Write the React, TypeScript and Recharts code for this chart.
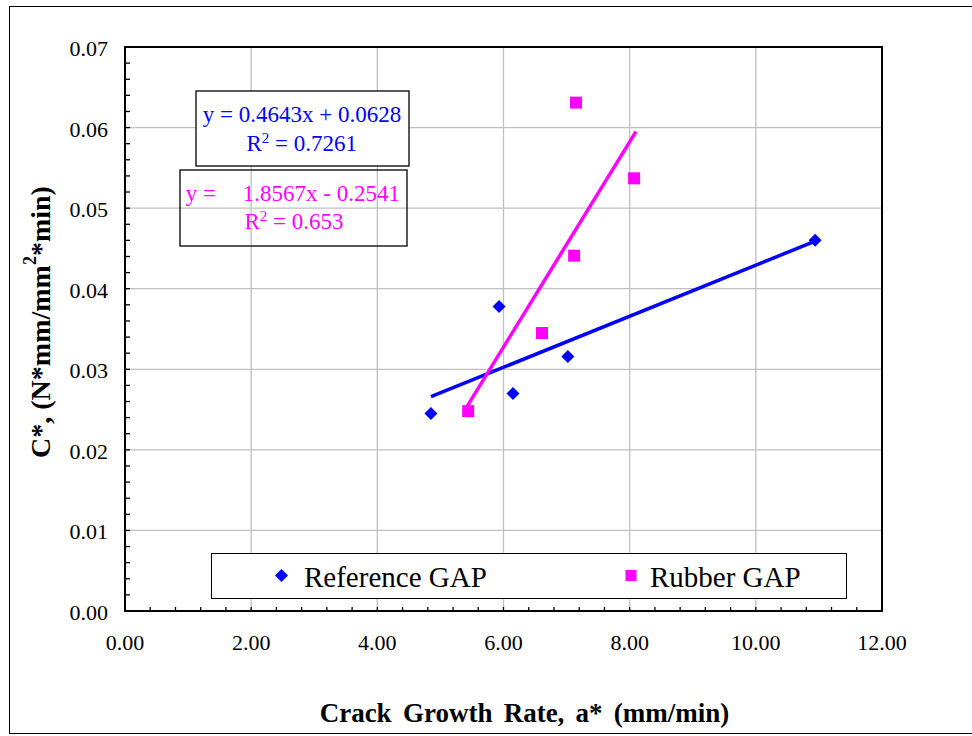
import React from "react";
import {
  ScatterChart,
  Scatter,
  XAxis,
  YAxis,
  CartesianGrid,
  ReferenceArea,
  Legend,
} from "recharts";

// ---- data ----
const refX = [4.85, 5.93, 6.15, 7.02, 10.94];
const refY = [0.0245, 0.0378, 0.027, 0.0316, 0.046];
const rubX = [5.44, 6.61, 7.12, 7.15, 8.07];
const rubY = [0.0248, 0.0345, 0.0441, 0.0631, 0.0537];

// trend line end points (as drawn)
const refTrendX = [4.85, 10.94];
const refTrendY = [0.0266, 0.0459];
const rubTrendX = [5.43, 8.1];
const rubTrendY = [0.0255, 0.0595];

// axes
const X_DOMAIN = [0, 12];
const Y_DOMAIN = [0, 0.07];
const X_MAJOR = [0, 2, 4, 6, 8, 10, 12];
const Y_MAJOR = [0, 0.01, 0.02, 0.03, 0.04, 0.05, 0.06, 0.07];
const X_TICKS = Array.from({ length: 31 }, (_, i) => +(i * 0.4).toFixed(1));
const Y_TICKS = Array.from({ length: 36 }, (_, i) => +(i * 0.002).toFixed(3));

const SERIES_NAMES = ["Reference GAP", "Rubber GAP"];
const X_TITLE = "Crack Growth Rate, a* (mm/min)";

const BLUE = "#0000FF";
const MAGENTA = "#FF00FF";
const FONT = '"Liberation Serif", "Times New Roman", Times, serif';

const toPts = (xs: number[], ys: number[]) => xs.map((x, i) => ({ x, y: ys[i] }));
const refData = toPts(refX, refY);
const rubData = toPts(rubX, rubY);
const refTrend = toPts(refTrendX, refTrendY);
const rubTrend = toPts(rubTrendX, rubTrendY);

const Diamond = (p: any) => {
  const { cx, cy } = p;
  if (cx == null || cy == null) return <g />;
  const r = 6.5;
  return (
    <polygon
      points={`${cx},${cy - r} ${cx + r},${cy} ${cx},${cy + r} ${cx - r},${cy}`}
      fill={BLUE}
    />
  );
};

const Square = (p: any) => {
  const { cx, cy } = p;
  if (cx == null || cy == null) return <g />;
  const s = 12;
  return <rect x={cx - s / 2} y={cy - s / 2} width={s} height={s} fill={MAGENTA} />;
};

const NoShape = () => <g />;

const isMajor = (v: number, majors: number[]) =>
  majors.some((m) => Math.abs(m - v) < 1e-9);

const XTick = (p: any) => {
  const { x, y, payload } = p;
  const v = payload.value as number;
  const major = isMajor(v, X_MAJOR);
  return (
    <g>
      <line x1={x} x2={x} y1={y} y2={y - 4} stroke="#000" strokeWidth={1.3} />
      {major && (
        <text x={x} y={y + 38.5} textAnchor="middle" fontSize={22} fill="#000" fontFamily={FONT}>
          {v.toFixed(2)}
        </text>
      )}
    </g>
  );
};

const YTick = (p: any) => {
  const { x, y, payload } = p;
  const v = payload.value as number;
  const major = isMajor(v, Y_MAJOR);
  return (
    <g>
      <line x1={x} x2={x + 5} y1={y} y2={y} stroke="#000" strokeWidth={1.3} />
      {major && (
        <text x={x - 17} y={y + 9} textAnchor="end" fontSize={22} fill="#000" fontFamily={FONT}>
          {v.toFixed(2)}
        </text>
      )}
    </g>
  );
};

const XTitle = (p: any) => {
  const vb = p.viewBox || { x: 125, y: 611, width: 757, height: 125 };
  return (
    <text
      x={vb.x + vb.width / 2 + 21}
      y={vb.y + 111}
      textAnchor="middle"
      fontSize={27}
      fontWeight="bold"
      fill="#000"
      fontFamily={FONT}
      style={{ wordSpacing: "4.5px" }}
    >
      {X_TITLE}
    </text>
  );
};

const YTitle = (p: any) => {
  const vb = p.viewBox || { x: 0, y: 47, width: 125, height: 564 };
  const cx = 40;
  const cy = vb.y + vb.height / 2 - 7;
  return (
    <text
      x={cx}
      y={cy}
      transform={`rotate(-90 ${cx} ${cy})`}
      textAnchor="middle"
      dominantBaseline="central"
      fontSize={28}
      fontWeight="bold"
      fill="#000"
      fontFamily={FONT}
    >
      C*, (N*mm/mm
      <tspan fontSize={18} dy={-10}>2</tspan>
      <tspan dy={10}>*min)</tspan>
    </text>
  );
};

const LegendBox = () => (
  <div
    style={{
      width: 636,
      height: 46,
      boxSizing: "border-box",
      border: "1.5px solid #000",
      background: "#fff",
      position: "relative",
    }}
  >
    <svg width={636} height={46} style={{ position: "absolute", left: -1.5, top: -1.5 }}>
      <polygon points="70.5,16 77,22.5 70.5,29 64,22.5" fill={BLUE} />
      <text x={93} y={33.5} fontSize={29} fontFamily={FONT} fill="#000">
        {SERIES_NAMES[0]}
      </text>
      <rect x={414.5} y={17} width={11} height={11} fill={MAGENTA} />
      <text x={439} y={33.5} fontSize={29} fontFamily={FONT} fill="#000">
        {SERIES_NAMES[1]}
      </text>
    </svg>
  </div>
);

const Annotations = () => (
  <svg
    width={972}
    height={736}
    style={{ position: "absolute", left: 0, top: 0, pointerEvents: "none" }}
    fontFamily={FONT}
  >
    <rect x={196} y={91} width={213} height={75} fill="#fff" stroke="#000" strokeWidth={1.3} />
    <text x={302} y={121.7} textAnchor="middle" fontSize={23} fill={BLUE}>
      y = 0.4643x + 0.0628
    </text>
    <text x={301.7} y={150.7} textAnchor="middle" fontSize={23} fill={BLUE}>
      R<tspan fontSize={15} dy={-8}>2</tspan>
      <tspan dy={8}> = 0.7261</tspan>
    </text>

    <rect x={180} y={170} width={227} height={76} fill="none" stroke="#000" strokeWidth={1.3} />
    <text x={185.7} y={200.7} fontSize={23} fill={MAGENTA}>
      y =
    </text>
    <text x={400} y={200.7} textAnchor="end" fontSize={23} fill={MAGENTA}>
      1.8567x - 0.2541
    </text>
    <text x={294} y={229.3} textAnchor="middle" fontSize={23} fill={MAGENTA}>
      R<tspan fontSize={15} dy={-8}>2</tspan>
      <tspan dy={8}> = 0.653</tspan>
    </text>
  </svg>
);

export default function App() {
  return (
    <div
      style={{
        position: "absolute",
        left: 0,
        top: 0,
        width: 972,
        height: 736,
        background: "#fff",
        fontFamily: FONT,
        overflow: "hidden",
      }}
    >
      <div
        style={{
          position: "absolute",
          left: 9,
          top: 6,
          width: 963,
          height: 728,
          boxSizing: "border-box",
          border: "1.7px solid #000",
          borderRight: "none",
        }}
      />
      <div style={{ position: "absolute", left: 0, top: 0 }}>
        <ScatterChart
          width={972}
          height={736}
          margin={{ top: 47, right: 90, bottom: 0, left: 0 }}
          style={{ fontFamily: FONT }}
        >
          <CartesianGrid
            stroke="#c0c0c0"
            strokeWidth={1.3}
            horizontalValues={Y_MAJOR}
            verticalValues={X_MAJOR}
          />
          <XAxis
            type="number"
            dataKey="x"
            domain={X_DOMAIN}
            ticks={X_TICKS}
            interval={0}
            allowDataOverflow
            height={125}
            tickSize={0}
            tickMargin={0}
            tickLine={false}
            axisLine={false}
            tick={<XTick />}
            label={<XTitle />}
          />
          <YAxis
            type="number"
            dataKey="y"
            domain={Y_DOMAIN}
            ticks={Y_TICKS}
            interval={0}
            allowDataOverflow
            width={125}
            tickSize={0}
            tickMargin={0}
            tickLine={false}
            axisLine={false}
            tick={<YTick />}
            label={<YTitle />}
          />
          <ReferenceArea
            x1={X_DOMAIN[0]}
            x2={X_DOMAIN[1]}
            y1={Y_DOMAIN[0]}
            y2={Y_DOMAIN[1]}
            fill="none"
            fillOpacity={0}
            stroke="#000"
            strokeWidth={2}
            ifOverflow="visible"
          />
          <Scatter
            data={refTrend}
            line={{ stroke: BLUE, strokeWidth: 3.5 }}
            lineType="joint"
            shape={NoShape}
            legendType="none"
            isAnimationActive={false}
          />
          <Scatter
            data={rubTrend}
            line={{ stroke: MAGENTA, strokeWidth: 3.5 }}
            lineType="joint"
            shape={NoShape}
            legendType="none"
            isAnimationActive={false}
          />
          <Scatter
            name={SERIES_NAMES[0]}
            data={refData}
            fill={BLUE}
            shape={Diamond}
            isAnimationActive={false}
          />
          <Scatter
            name={SERIES_NAMES[1]}
            data={rubData}
            fill={MAGENTA}
            shape={Square}
            isAnimationActive={false}
          />
          <Legend
            layout="vertical"
            align="center"
            verticalAlign="middle"
            content={<LegendBox />}
            wrapperStyle={{ position: "absolute", left: 211, top: 553, width: 636, height: 46 }}
          />
        </ScatterChart>
      </div>
      <Annotations />
    </div>
  );
}
